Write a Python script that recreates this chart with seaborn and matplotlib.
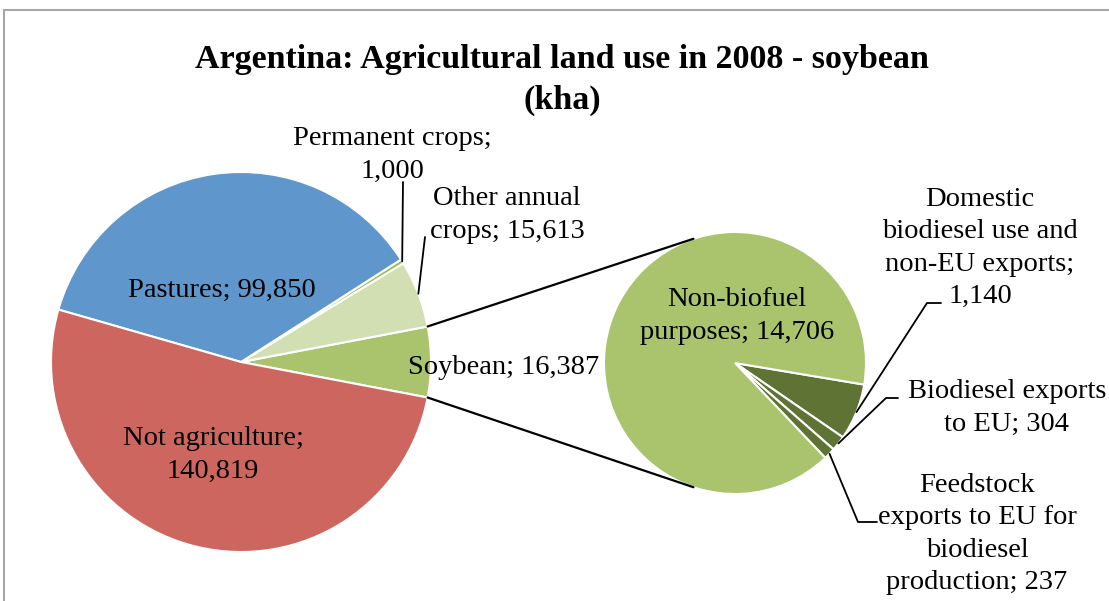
import numpy as np
import matplotlib
matplotlib.use("Agg")
import matplotlib.pyplot as plt
from matplotlib.patches import Rectangle
import seaborn as sns

# ---------------- data ----------------
main_labels = ["Soybean", "Other annual crops", "Permanent crops", "Pastures", "Not agriculture"]
main_values = [16387, 15613, 1000, 99850, 140819]
main_colors = ["#A9C46C", "#D1DFB2", "#9BBB59", "#5F96CB", "#CD665F"]
main_text = ["Soybean; {}", "Other annual\ncrops; {}", "Permanent crops;\n{}",
             "Pastures; {}", "Not agriculture;\n{}"]

sub_labels = ["Domestic biodiesel use and non-EU exports", "Biodiesel exports to EU",
              "Feedstock exports to EU for biodiesel production", "Non-biofuel purposes"]
sub_values = [1140, 304, 237, 14706]
sub_colors = ["#5F7434", "#5F7434", "#5F7434", "#A9C46C"]
sub_text = ["Domestic\nbiodiesel use and\nnon-EU exports;\n{}", "Biodiesel exports\nto EU; {}",
            "Feedstock\nexports to EU for\nbiodiesel\nproduction; {}", "Non-biofuel\npurposes; {}"]

title = "Argentina: Agricultural land use in 2008 - soybean\n(kha)"

# ---------------- layout ----------------
W, H = 1109, 601
sns.set_theme(style="white")
plt.rcParams['font.family'] = ['Liberation Serif', 'DejaVu Serif']

fig = plt.figure(figsize=(W / 100, H / 100), dpi=100)
ax = fig.add_axes([0, 0, 1, 1])


def P(x, y):
    """pixel (top-left origin) -> data coords"""
    return (x, H - y)


main_c = P(241, 362)
main_r = 190
sub_c = P(735, 363)
sub_r = 131

main_total = sum(main_values)
main_start = -360 * main_values[0] / main_total / 2

ax.pie(main_values, colors=main_colors, startangle=main_start, counterclock=True,
       center=main_c, radius=main_r, frame=True,
       wedgeprops=dict(edgecolor="white", linewidth=1.5))

sub_start = -9.5
ax.pie(sub_values, colors=sub_colors, startangle=sub_start, counterclock=False,
       center=sub_c, radius=sub_r, frame=True,
       wedgeprops=dict(edgecolor="white", linewidth=1.5))


def pt(center, r, ang):
    a = np.deg2rad(ang)
    return center[0] + r * np.cos(a), center[1] + r * np.sin(a)


# connector lines between pies
for sgn in (1, -1):
    p0 = pt(main_c, main_r, sgn * (-main_start))
    p1 = pt(sub_c, sub_r, sgn * 108.5)
    ax.plot([p0[0], p1[0]], [p0[1], p1[1]], color="black", lw=1.6, zorder=1)

# mid angles
main_cum = np.cumsum([0] + main_values)
main_mid = [main_start + 360 * (main_cum[i] + main_cum[i + 1]) / 2 / main_total
            for i in range(len(main_values))]
sub_total = sum(sub_values)
sub_cum = np.cumsum([0] + sub_values)
sub_mid = [sub_start - 360 * (sub_cum[i] + sub_cum[i + 1]) / 2 / sub_total
           for i in range(len(sub_values))]

fs = 20.5
ls = 1.38
# main labels
main_pos = [P(504, 367), P(507, 215), P(392, 155), P(222, 290), P(213, 455)]
for i, (t, v) in enumerate(zip(main_text, main_values)):
    ax.text(*main_pos[i], t.format(f"{v:,}"), ha="center", va="center",
            fontsize=fs, color="black", linespacing=ls)

# leader lines main
lead_main = {2: [P(403, 182)], 1: [P(425, 237)]}
for i, pts in lead_main.items():
    s = pt(main_c, main_r, main_mid[i])
    xs = [s[0]] + [p[0] for p in pts]
    ys = [s[1]] + [p[1] for p in pts]
    ax.plot(xs, ys, color="black", lw=1.3)

# sub labels
sub_pos = [P(980, 248), P(1007, 408), P(977, 534), P(737, 316)]
for i, (t, v) in enumerate(zip(sub_text, sub_values)):
    ax.text(*sub_pos[i], t.format(f"{v:,}"), ha="center", va="center",
            fontsize=fs, color="black", linespacing=ls)

lead_sub = {0: [P(927, 303), P(941, 303)],
            1: [P(886, 398), P(898, 398)],
            2: [P(858, 522), P(877, 522)]}
for i, pts in lead_sub.items():
    s = pt(sub_c, sub_r, sub_mid[i])
    xs = [s[0]] + [p[0] for p in pts]
    ys = [s[1]] + [p[1] for p in pts]
    ax.plot(xs, ys, color="black", lw=1.3)

# title
ax.text(*P(562, 80), title, ha="center", va="center", fontsize=24.5,
        fontweight="bold", color="black", linespacing=1.4)

# chart-area border
ax.add_patch(Rectangle(P(4, 620), 1200, 610, fill=False, edgecolor="#A6A6A6", lw=1.5))

ax.set_xlim(0, W)
ax.set_ylim(0, H)
ax.set_aspect("equal")
ax.axis("off")

fig.savefig("out.png", dpi=100, facecolor="white")
